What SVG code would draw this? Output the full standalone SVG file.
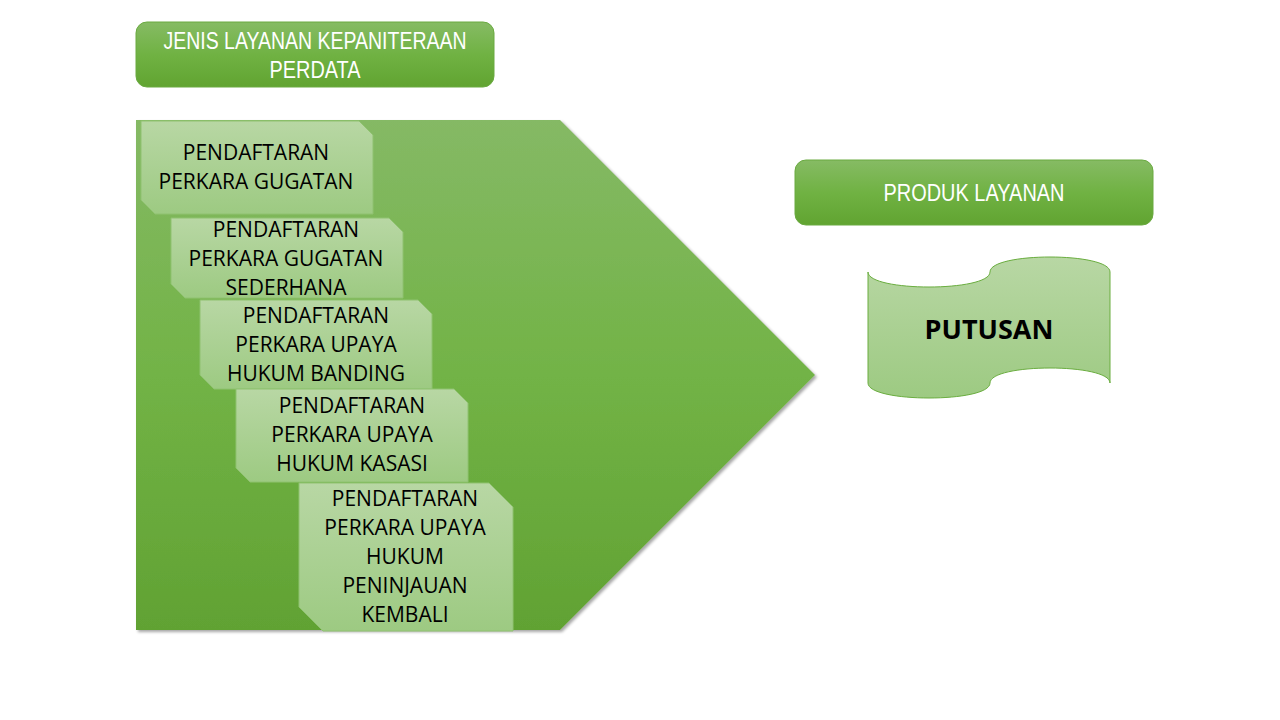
<svg xmlns="http://www.w3.org/2000/svg" width="1280" height="720" viewBox="0 0 1280 720">
<defs>
<linearGradient id="gBig" x1="0" y1="0" x2="0" y2="1">
<stop offset="0" stop-color="#85b965"/>
<stop offset="0.5" stop-color="#72b346"/>
<stop offset="1" stop-color="#61a233"/>
</linearGradient>
<linearGradient id="gHead" x1="0" y1="0" x2="0" y2="1">
<stop offset="0" stop-color="#86bb64"/>
<stop offset="0.5" stop-color="#70b243"/>
<stop offset="1" stop-color="#61a431"/>
</linearGradient>
<linearGradient id="gBox" x1="0" y1="0" x2="0" y2="1">
<stop offset="0" stop-color="#b8d7a4"/>
<stop offset="1" stop-color="#9dca82"/>
</linearGradient>
<filter id="sh" x="-5%" y="-5%" width="115%" height="115%">
<feDropShadow dx="2" dy="2" stdDeviation="1.5" flood-color="#000" flood-opacity="0.35"/>
</filter>
<style>
.head{fill:url(#gHead);stroke:#6aaa41;stroke-width:1}
.headtxt{font-family:"Liberation Sans",Arial,sans-serif;font-size:23px;fill:#fff;text-anchor:middle}
.box{fill:url(#gBox);stroke:#8fc270;stroke-width:1}
.bt{font-family:"Open Sans","Liberation Sans",sans-serif;font-size:21px;fill:#000;text-anchor:middle}
</style>
</defs>

<g id="arrow">
<path d="M136,120 L560,120 L815,375 L560,630 L136,630 Z" fill="url(#gBig)" filter="url(#sh)"/>
</g>

<g id="header-jenis">
<rect class="head" x="136" y="22" width="358" height="65" rx="11"/>
<text class="headtxt" x="315" y="49" textLength="303" lengthAdjust="spacingAndGlyphs">JENIS LAYANAN KEPANITERAAN</text>
<text class="headtxt" x="315" y="78" textLength="91" lengthAdjust="spacingAndGlyphs">PERDATA</text>
</g>

<g id="box-gugatan">
<path class="box" d="M141,121 H359 L373,135 V214 H155 L141,200 Z"/>
<text class="bt" x="256" y="160">PENDAFTARAN</text>
<text class="bt" x="256" y="189">PERKARA GUGATAN</text>
</g>

<g id="box-sederhana">
<path class="box" d="M171,218 H389 L403,232 V298 H185 L171,284 Z"/>
<text class="bt" x="286" y="237">PENDAFTARAN</text>
<text class="bt" x="286" y="266">PERKARA GUGATAN</text>
<text class="bt" x="286" y="295">SEDERHANA</text>
</g>

<g id="box-banding">
<path class="box" d="M200,300 H418 L432,314 V389 H214 L200,375 Z"/>
<text class="bt" x="316" y="323">PENDAFTARAN</text>
<text class="bt" x="316" y="352">PERKARA UPAYA</text>
<text class="bt" x="316" y="381">HUKUM BANDING</text>
</g>

<g id="box-kasasi">
<path class="box" d="M236,389 H454 L468,403 V482 H250 L236,468 Z"/>
<text class="bt" x="352" y="413">PENDAFTARAN</text>
<text class="bt" x="352" y="442">PERKARA UPAYA</text>
<text class="bt" x="352" y="471">HUKUM KASASI</text>
</g>

<g id="box-pk">
<path class="box" d="M299,483 H489 L513,507 V631 H323 L299,607 Z"/>
<text class="bt" x="405" y="506">PENDAFTARAN</text>
<text class="bt" x="405" y="535">PERKARA UPAYA</text>
<text class="bt" x="405" y="564">HUKUM</text>
<text class="bt" x="405" y="593">PENINJAUAN</text>
<text class="bt" x="405" y="622">KEMBALI</text>
</g>

<g id="header-produk">
<rect class="head" x="795" y="160" width="358" height="65" rx="11"/>
<text class="headtxt" x="974" y="201" textLength="181" lengthAdjust="spacingAndGlyphs">PRODUK LAYANAN</text>
</g>

<g id="putusan">
<path d="M868,272 C868,292 990,292 990,272 C990,252 1110,252 1110,272 L1110,383 C1110,363 990,363 990,383 C990,403 868,403 868,383 Z" fill="url(#gBox)" stroke="#6aad3f" stroke-width="1"/>
<text x="989" y="339" font-family="'Open Sans','Liberation Sans',sans-serif" font-size="27" font-weight="bold" text-anchor="middle" fill="#000">PUTUSAN</text>
</g>

<g id="connectors"></g>
</svg>
